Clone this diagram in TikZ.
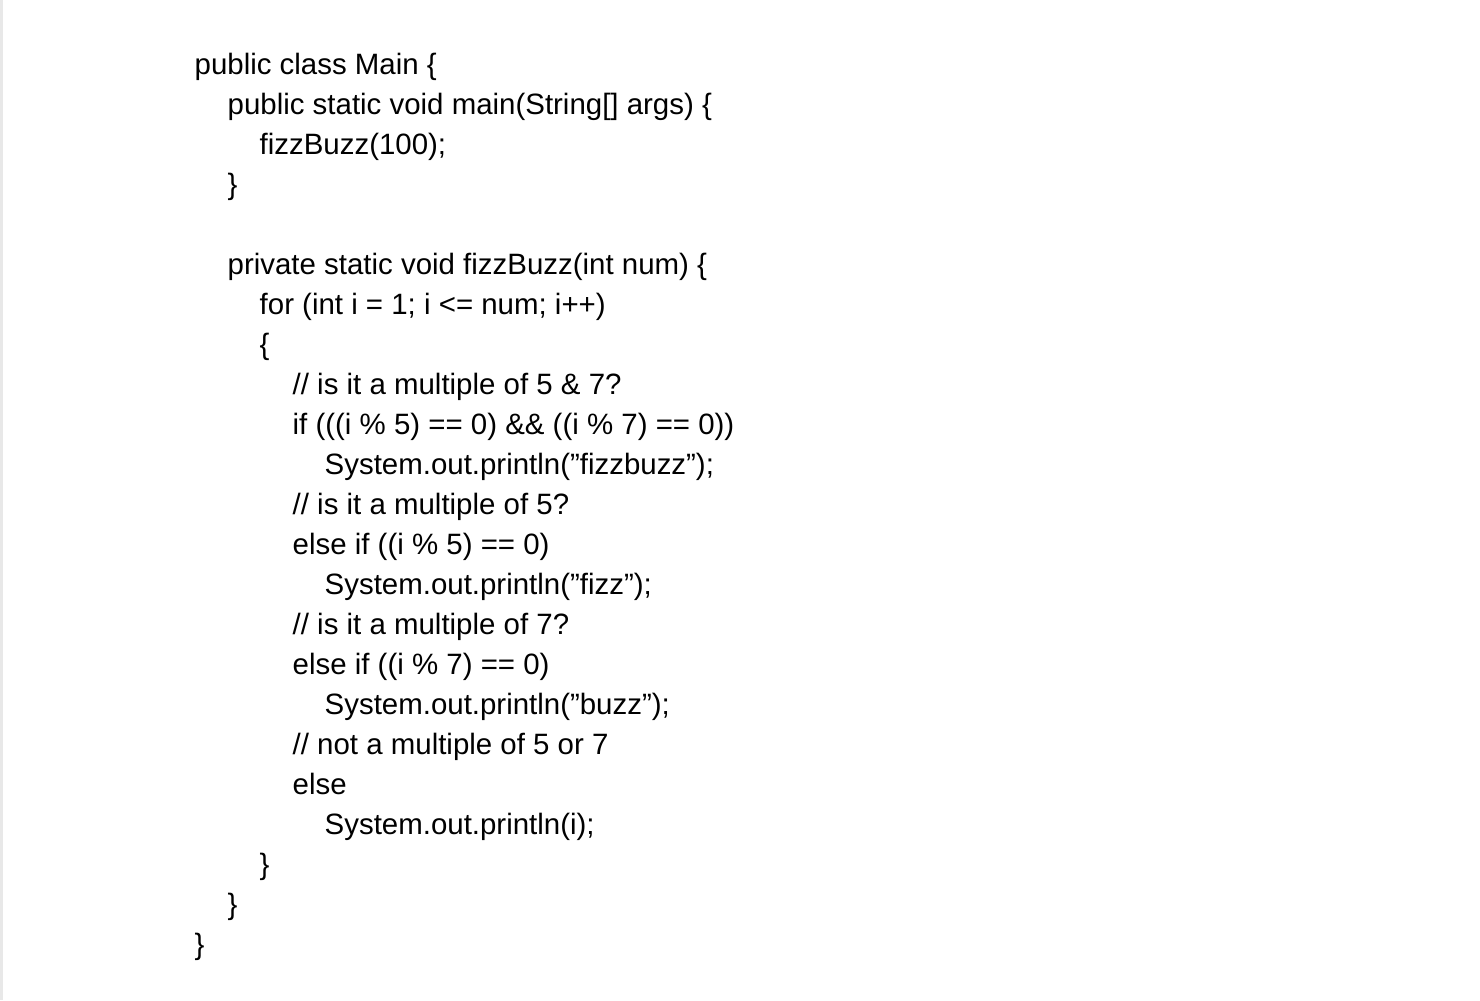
\documentclass[tikz,border=0pt]{standalone}
\usepackage{fontspec}
\setmainfont{Liberation Sans}
\begin{document}
\begin{tikzpicture}[x=0.01cm,y=-0.01cm,
  codeline/.style={anchor=base west,inner sep=0pt,font=\fontsize{8.37pt}{10pt}\selectfont}]
  % page and left edge
  \useasboundingbox (0,0) rectangle (1480,1000);
  \fill[white] (0,0) rectangle (1480,1000);
  \fill[black!9] (0,0) rectangle (3,1000);

  % indent levels
  \def\ia{194}\def\ib{227}\def\ic{259}\def\id{292}\def\ie{324}

  \node[codeline] (l1) at (\ia,74) {public class Main \{};
  \node[codeline] (l2) at (\ib,114) {public static void main(String[] args) \{};
  \node[codeline] (l3) at (\ic,154) {fizzBuzz(100);};
  \node[codeline] (l4) at (\ib,194) {\}};
  \node[codeline] (l6) at (\ib,274) {private static void fizzBuzz(int num) \{};
  \node[codeline] (l7) at (\ic,314) {for (int i = 1; i <= num; i++)};
  \node[codeline] (l8) at (\ic,354) {\{};
  \node[codeline] (l9) at (\id,394) {// is it a multiple of 5 \& 7?};
  \node[codeline] (l10) at (\id,434) {if (((i \% 5) == 0) \&\& ((i \% 7) == 0))};
  \node[codeline] (l11) at (\ie,474) {System.out.println("fizzbuzz");};
  \node[codeline] (l12) at (\id,514) {// is it a multiple of 5?};
  \node[codeline] (l13) at (\id,554) {else if ((i \% 5) == 0)};
  \node[codeline] (l14) at (\ie,594) {System.out.println("fizz");};
  \node[codeline] (l15) at (\id,634) {// is it a multiple of 7?};
  \node[codeline] (l16) at (\id,674) {else if ((i \% 7) == 0)};
  \node[codeline] (l17) at (\ie,714) {System.out.println("buzz");};
  \node[codeline] (l18) at (\id,754) {// not a multiple of 5 or 7};
  \node[codeline] (l19) at (\id,794) {else};
  \node[codeline] (l20) at (\ie,834) {System.out.println(i);};
  \node[codeline] (l21) at (\ic,874) {\}};
  \node[codeline] (l22) at (\ib,914) {\}};
  \node[codeline] (l23) at (\ia,954) {\}};
\end{tikzpicture}
\end{document}
